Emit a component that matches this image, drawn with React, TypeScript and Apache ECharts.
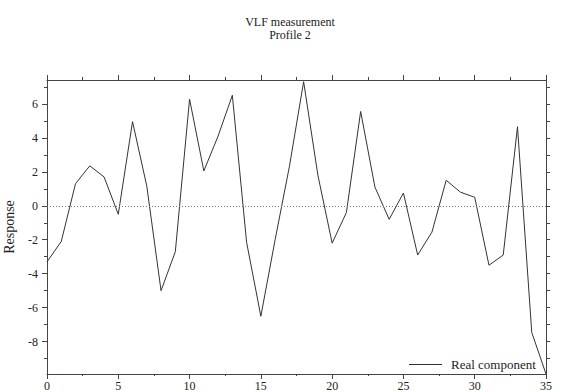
import React, { useEffect, useRef } from "react";
import * as echarts from "echarts";

const distance = [0, 1, 2, 3, 4, 5, 6, 7, 8, 9, 10, 11, 12, 13, 14, 15, 16, 17, 18, 19, 20, 21, 22, 23, 24, 25, 26, 27, 28, 29, 30, 31, 32, 33, 34, 35];
const realComponent = [-3.3, -2.1, 1.3, 2.35, 1.7, -0.5, 4.95, 1.15, -5.0, -2.7, 6.27, 2.05, 4.1, 6.5, -2.15, -6.5, -2.0, 2.3, 7.3, 1.8, -2.2, -0.4, 5.55, 1.1, -0.8, 0.75, -2.9, -1.55, 1.5, 0.8, 0.5, -3.5, -2.9, 4.65, -7.45, -9.9];

const yLabelValues = [-8, -6, -4, -2, 0, 2, 4, 6];
const yMinorTickValues = [-9, -7, -5, -3, -1, 1, 3, 5, 7];
const yRightTickValues = [-9, -8, -7, -6, -5, -4, -3, -2, -1, 0, 1, 2, 3, 4, 5, 6, 7];
const yRange = [-9.9, 7.4];
const xRange = [0, 35];

const titleText = "VLF measurement";
const subtitleText = "Profile 2";
const seriesName = "Real component";
const yAxisName = "Response";

const FONT = '"Liberation Serif", "DejaVu Serif", serif';
const AXIS_COLOR = "#444";
const TEXT_COLOR = "#222";

export default function App() {
  const ref = useRef<HTMLDivElement>(null);

  useEffect(() => {
    if (!ref.current) return;
    const chart = echarts.init(ref.current, null, { renderer: "svg" });
    const data = distance.map((d, i) => [d, realComponent[i]]);

    const baseY = {
      type: "value",
      min: yRange[0],
      max: yRange[1],
      splitLine: { show: false },
    };
    const baseX = {
      type: "value",
      min: xRange[0],
      max: xRange[1],
      interval: 5,
      splitLine: { show: false },
      minorSplitLine: { show: false },
    };

    chart.setOption({
      animation: false,
      backgroundColor: "#fff",
      textStyle: { fontFamily: FONT },
      title: {
        text: titleText,
        subtext: subtitleText,
        left: "center",
        top: 16,
        padding: 0,
        itemGap: 1,
        textStyle: {
          fontFamily: FONT,
          fontSize: 12,
          fontWeight: "normal",
          color: TEXT_COLOR,
          lineHeight: 12,
        },
        subtextStyle: {
          fontFamily: FONT,
          fontSize: 12,
          color: TEXT_COLOR,
          lineHeight: 12,
        },
      },
      legend: {
        data: [seriesName],
        left: 404,
        top: 353,
        icon: "rect",
        itemWidth: 33,
        itemHeight: 1,
        textStyle: {
          fontFamily: FONT,
          fontSize: 13,
          color: TEXT_COLOR,
          padding: [0, 0, 0, 4],
        },
      },
      grid: { left: 47, right: 34, top: 80, bottom: 18, containLabel: false, outerBoundsMode: "none" },
      xAxis: [
        {
          ...baseX,
          position: "bottom",
          axisLine: { show: true, onZero: false, lineStyle: { color: AXIS_COLOR, width: 1 } },
          axisTick: { show: true, inside: false, length: 5, lineStyle: { color: AXIS_COLOR } },
          minorTick: { show: true, splitNumber: 2, length: 2, lineStyle: { color: AXIS_COLOR } },
          axisLabel: { margin: 6, fontSize: 12, lineHeight: 12, color: TEXT_COLOR, fontFamily: FONT },
        },
        {
          ...baseX,
          position: "top",
          axisLine: { show: true, onZero: false, lineStyle: { color: AXIS_COLOR, width: 1 } },
          axisTick: { show: true, inside: false, length: 5, lineStyle: { color: AXIS_COLOR } },
          minorTick: { show: true, splitNumber: 2, length: 3, lineStyle: { color: AXIS_COLOR } },
          axisLabel: { show: false },
        },
      ],
      yAxis: [
        {
          ...baseY,
          position: "left",
          name: yAxisName,
          nameLocation: "middle",
          nameRotate: 90,
          nameGap: 31,
          nameTextStyle: { fontFamily: FONT, fontSize: 14, color: TEXT_COLOR },
          axisLine: { show: true, onZero: false, lineStyle: { color: AXIS_COLOR, width: 1 } },
          axisTick: { show: true, inside: false, length: 5, customValues: yLabelValues, lineStyle: { color: AXIS_COLOR } },
          axisLabel: { show: true, margin: 9, fontSize: 12, color: TEXT_COLOR, fontFamily: FONT, customValues: yLabelValues },
        },
        {
          ...baseY,
          position: "left",
          axisLine: { show: false, onZero: false },
          axisTick: { show: true, inside: false, length: 3, customValues: yMinorTickValues, lineStyle: { color: AXIS_COLOR } },
          axisLabel: { show: false },
        },
        {
          ...baseY,
          position: "right",
          axisLine: { show: true, onZero: false, lineStyle: { color: AXIS_COLOR, width: 1 } },
          axisTick: { show: true, inside: false, length: 4, customValues: yRightTickValues, lineStyle: { color: AXIS_COLOR } },
          axisLabel: { show: false },
        },
      ],
      series: [
        {
          name: seriesName,
          type: "line",
          xAxisIndex: 0,
          yAxisIndex: 0,
          data,
          symbol: "none",
          showSymbol: false,
          lineStyle: { color: "#333", width: 1 },
          itemStyle: { color: "#333" },
          markLine: {
            silent: true,
            symbol: "none",
            label: { show: false },
            lineStyle: { type: [1, 2], color: "#777", width: 1 },
            data: [{ yAxis: 0 }],
          },
        },
      ],
    });

    return () => chart.dispose();
  }, []);

  return (
    <div
      ref={ref}
      style={{ position: "fixed", left: 0, top: 0, width: 580, height: 392, background: "#fff" }}
    />
  );
}
